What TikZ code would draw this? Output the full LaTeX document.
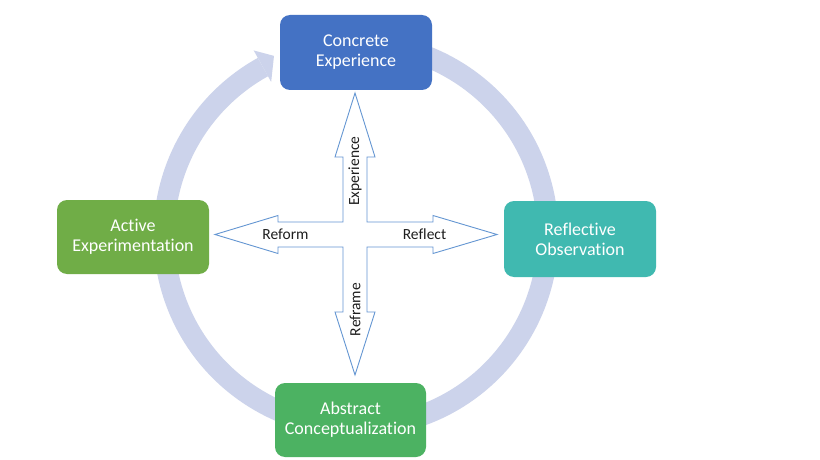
\documentclass[tikz,border=0pt]{standalone}
\usepackage{fontspec}
\setmainfont[Ligatures=NoCommon]{Carlito}
\definecolor{ringcol}{RGB}{204,211,235}
\definecolor{cblue}{RGB}{68,114,196}
\definecolor{cgreenA}{RGB}{112,173,71}
\definecolor{cteal}{RGB}{64,185,176}
\definecolor{cgreenB}{RGB}{76,178,98}
\definecolor{crossline}{RGB}{100,150,210}
\definecolor{labtext}{RGB}{30,30,30}
\tikzset{
  stagebox/.style={rounded corners=10pt, minimum width=152pt, minimum height=75pt,
    text=white, align=center, inner sep=0pt,
    font=\fontsize{18}{20}\selectfont},
  crosslabel/.style={text=labtext, font=\fontsize{15.5}{18}\selectfont, inner sep=0pt},
  ringstroke/.style={draw=ringcol, line width=21pt},
}
\begin{document}
\begin{tikzpicture}[x=1pt,y=1pt]
\useasboundingbox (0,0) rectangle (820,459);
\fill[white] (0,0) rectangle (820,459);
% circular arrow
\coordinate (rc) at (356,224);
\draw[ringstroke] ([shift={(105:192)}]rc) arc[start angle=105, end angle=-241, radius=192];
\fill[ringcol] ([shift={(119:211)}]rc) -- ([shift={(114.6:197)}]rc) -- ([shift={(119:175)}]rc) -- cycle;
% cross of block arrows
\draw[crossline, fill=white, line width=0.9pt, line join=miter]
  (497,224.5) -- (433,243.5) -- (433,237) -- (367,237) -- (367,302) -- (375,302)
  -- (355,366) -- (335,302) -- (343,302) -- (343,237) -- (278,237) -- (278,243.5)
  -- (215,224.5) -- (278,205.5) -- (278,212) -- (343,212) -- (343,147) -- (335,147)
  -- (355,84) -- (375,147) -- (367,147) -- (367,212) -- (433,212) -- (433,205.5) -- cycle;
\node[crosslabel, rotate=90] (lexp) at (355,288) {Experience};
\node[crosslabel, rotate=90] (lrefr) at (355,149.5) {Reframe};
\node[crosslabel] (lref) at (285.5,224.5) {Reform};
\node[crosslabel] (lrefl) at (424.5,224.5) {Reflect};
% stage boxes
\node[stagebox, fill=cblue] (ce) at (356,406.5) {Concrete\\Experience};
\node[stagebox, fill=cgreenA, minimum height=74pt] (ae) at (133,222) {Active\\Experimentation};
\node[stagebox, fill=cteal, minimum height=76pt] (ro) at (580,220) {Reflective\\Observation};
\node[stagebox, fill=cgreenB, minimum width=151pt, minimum height=74pt] (ac) at (350.5,39) {Abstract\\Conceptualization};
\end{tikzpicture}
\end{document}
